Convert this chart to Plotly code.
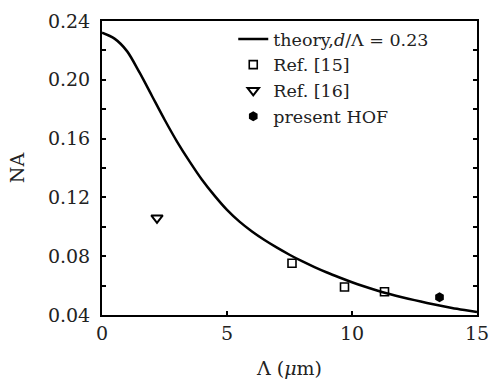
import plotly.graph_objects as go

# Theory curve, d/Lambda = 0.23
theory_x = [0, 0.5, 1.0, 1.5, 2.0, 2.5, 3.0, 3.5, 4.0, 4.5, 5.0, 5.5, 6.0, 6.5, 7.0,
            7.5, 8.0, 8.5, 9.0, 9.5, 10.0, 10.5, 11.0, 11.5, 12.0, 12.5, 13.0, 13.5,
            14.0, 14.5, 15.0]
theory_y = [0.232, 0.228, 0.2195, 0.205, 0.189, 0.173, 0.158, 0.1445, 0.132, 0.1212,
            0.1115, 0.1035, 0.0968, 0.0910, 0.0858, 0.0810, 0.0766, 0.0726, 0.0689, 0.0655,
            0.0623, 0.0594, 0.0567, 0.0543, 0.0521, 0.0501, 0.0482, 0.0464, 0.0448,
            0.0434, 0.0421]

ref15_x = [7.6, 9.7, 11.3]
ref15_y = [0.0752, 0.0590, 0.0558]

ref16_x = [2.2]
ref16_y = [0.106]

hof_x = [13.5]
hof_y = [0.052]

x_ticks = [0, 5, 10, 15]
y_ticks = [0.04, 0.08, 0.12, 0.16, 0.20, 0.24]
y_tick_text = ["0.04", "0.08", "0.12", "0.16", "0.20", "0.24"]

FONT = "DejaVu Serif"

fig = go.Figure()
fig.add_trace(go.Scatter(x=theory_x, y=theory_y, mode="lines",
                         line=dict(color="black", width=2.5, shape="spline", smoothing=0.8),
                         name="theory,<i>d</i>/Λ = 0.23"))
fig.add_trace(go.Scatter(x=ref15_x, y=ref15_y, mode="markers",
                         marker=dict(symbol="square-open", size=8, color="black",
                                     line=dict(width=1.6, color="black")),
                         name="Ref. [15]"))
fig.add_trace(go.Scatter(x=ref16_x, y=ref16_y, mode="markers",
                         marker=dict(symbol="triangle-down-open", size=10, color="black",
                                     line=dict(width=2, color="black")),
                         name="Ref. [16]"))
fig.add_trace(go.Scatter(x=hof_x, y=hof_y, mode="markers",
                         marker=dict(symbol="hexagon", size=10, color="black"),
                         name="present HOF"))

fig.update_layout(
    width=491, height=379,
    margin=dict(l=102, r=14, t=21, b=64, autoexpand=False),
    paper_bgcolor="white", plot_bgcolor="white",
    font=dict(family=FONT, size=18, color="#222"),
    showlegend=True,
    legend=dict(x=0.35, y=1.0, xanchor="left", yanchor="top",
                bgcolor="rgba(0,0,0,0)", font=dict(size=17.5, family=FONT),
                itemwidth=30, tracegroupgap=0),
    xaxis=dict(range=[0, 15], tickvals=x_ticks, ticks="inside", ticklen=4,
               tickwidth=1.5, tickcolor="black", showgrid=False, zeroline=False,
               showline=True, linecolor="black", linewidth=2, mirror=True,
               automargin=False,
               tickfont=dict(size=19, family=FONT),
               title=dict(text="Λ (<i>μ</i>m)", font=dict(size=19, family=FONT), standoff=20)),
    yaxis=dict(range=[0.04, 0.24], tickvals=y_ticks, ticktext=y_tick_text,
               ticks="inside", ticklen=4, tickwidth=1.5, tickcolor="black",
               minor=dict(dtick=0.02, tick0=0.04, ticks="inside", ticklen=4,
                          tickwidth=1.5, tickcolor="black"),
               showgrid=False, zeroline=False, automargin=False,
               showline=True, linecolor="black", linewidth=2, mirror="ticks",
               tickfont=dict(size=19, family=FONT), ticklabelstandoff=6,
               title=dict(text="NA", font=dict(size=19, family=FONT), standoff=18)),
)

# Remove the page's default body margin so the figure sits at the window's corner.
fig.write_html("out.html",
               config={"displayModeBar": False},
               post_script="document.body.style.margin='0';document.body.style.overflow='hidden';")
